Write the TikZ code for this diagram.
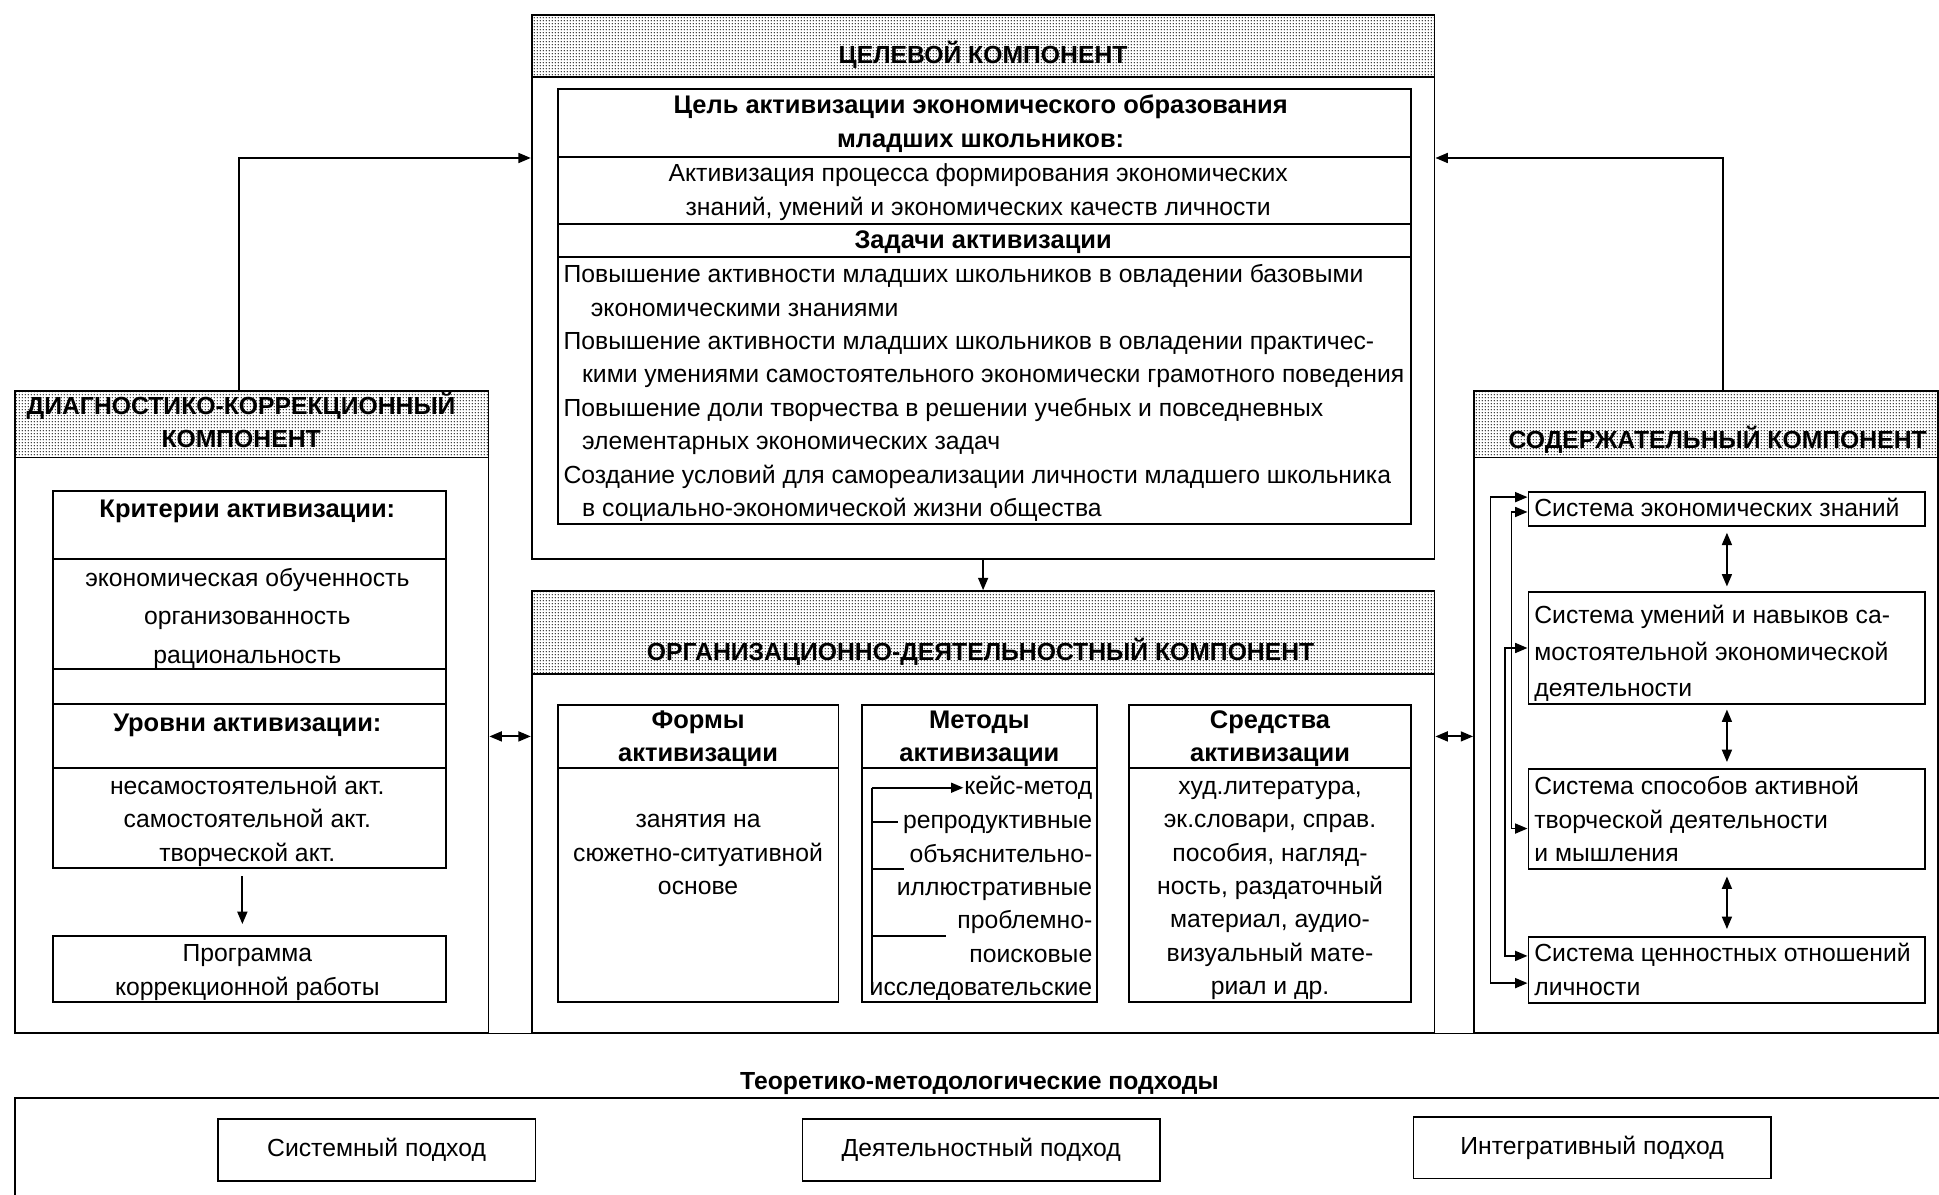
\documentclass[tikz,border=0pt]{standalone}
\usepackage{fontspec}
\setmainfont{Liberation Sans}
\usetikzlibrary{arrows.meta,patterns,fit}
\pgfdeclarepatternformonly{finedots}{\pgfpointorigin}{\pgfpoint{1.3pt}{1.3pt}}{\pgfpoint{1.3pt}{1.3pt}}{\pgfpathcircle{\pgfpoint{0.65pt}{0.65pt}}{0.32pt}\pgfusepath{fill}}
\newcommand\bodyf{\fontsize{10}{13.5}\selectfont}
\newcommand\boldf{\fontsize{10.3}{13.5}\selectfont\bfseries}
\newcommand\hdf{\fontsize{10}{13.5}\selectfont\bfseries}
\begin{document}
\begin{tikzpicture}[x=0.5pt,y=-0.5pt, line width=0.75pt,
  frame/.style={draw, inner sep=0pt},
  head/.style={draw, inner sep=0pt, pattern=finedots},
  txt/.style={inner sep=0pt, font=\bodyf, align=center},
  btxt/.style={inner sep=0pt, font=\boldf, align=center},
  htxt/.style={inner sep=0pt, font=\hdf, align=center},
  ltxt/.style={inner sep=0pt, font=\bodyf, align=left},
  rtxt/.style={inner sep=0pt, font=\bodyf, align=right},
  arr/.style={-{Triangle[length=5pt,width=4pt]}},
  dbl/.style={{Triangle[length=5pt,width=4pt]}-{Triangle[length=5pt,width=4pt]}},
]
\useasboundingbox (0,0) rectangle (1568,966);

% ---------------- target component
\node[frame, fit={(430,12) (1160,452)}] (tgt) {};
\node[head, fit={(430,12) (1160,62)}] (tgtH) {};
\node[htxt] (tgtT) at (795,44) {ЦЕЛЕВОЙ КОМПОНЕНТ};
\node[frame, fit={(451,72) (1141,127)}] (goalH) {};
\node[frame, fit={(451,127) (1141,181)}] (goalB) {};
\node[frame, fit={(451,181) (1141,208)}] (taskH) {};
\node[frame, fit={(451,208) (1141,424)}] (taskB) {};
\node[btxt] (goalHT) at (793,100) {\strut Цель активизации экономического образования\\\strut младших школьников:};
\node[txt] (goalBT) at (791,155) {\strut Активизация процесса формирования экономических\\\strut знаний, умений и экономических качеств личности};
\node[btxt] (taskHT) at (795,195.5) {\strut Задачи активизации};
\node[ltxt, anchor=north west] (taskBT) at (455,209) {\strut Повышение активности младших школьников в овладении базовыми\\
\strut\hspace*{11pt}экономическими знаниями\\
\strut Повышение активности младших школьников в овладении практичес-\\
\strut\hspace*{7.5pt}кими умениями самостоятельного экономически грамотного поведения\\
\strut Повышение доли творчества в решении учебных и повседневных\\
\strut\hspace*{7.5pt}элементарных экономических задач\\
\strut Создание условий для самореализации личности младшего школьника\\
\strut\hspace*{7.5pt}в социально-экономической жизни общества};

% ---------------- diagnostic component
\node[frame, fit={(12,316) (395,835)}] (diag) {};
\node[head, fit={(12,316) (395,370)}] (diagH) {};
\node[htxt] (diagT) at (195,343) {\strut ДИАГНОСТИКО-КОРРЕКЦИОННЫЙ\\\strut КОМПОНЕНТ};
\node[frame, fit={(43,397) (361,702)}] (crit) {};
\node[frame, fit={(43,397) (361,452)}] (critH) {};
\node[frame, fit={(43,452) (361,541)}] (critB) {};
\node[frame, fit={(43,541) (361,569)}] (critG) {};
\node[frame, fit={(43,569) (361,621)}] (levH) {};
\node[frame, fit={(43,621) (361,702)}] (levB) {};
\node[btxt] (critHT) at (200,413) {\strut Критерии активизации:};
\node[inner sep=0pt, align=center, font=\fontsize{10}{15.5}\selectfont] (critBT) at (200,499) {\strut экономическая обученность\\\strut организованность\\\strut рациональность};
\node[btxt] (levHT) at (200,586) {\strut Уровни активизации:};
\node[txt] (levBT) at (200,664) {\strut несамостоятельной акт.\\\strut самостоятельной акт.\\\strut творческой акт.};
\node[frame, fit={(43,757) (361,810)}] (prog) {};
\node[txt] (progT) at (200,786) {\strut Программа\\\strut коррекционной работы};

% ---------------- organisational component
\node[frame, fit={(430,478) (1160,835)}] (org) {};
\node[head, fit={(430,478) (1160,545)}] (orgH) {};
\node[htxt] (orgT) at (793,527) {ОРГАНИЗАЦИОННО-ДЕЯТЕЛЬНОСТНЫЙ КОМПОНЕНТ};
\node[frame, fit={(451,570) (678,621)}] (formsH) {};
\node[frame, fit={(451,621) (678,810)}] (formsB) {};
\node[frame, fit={(697,570) (887,621)}] (methH) {};
\node[frame, fit={(697,621) (887,810)}] (methB) {};
\node[frame, fit={(913,570) (1141,621)}] (meansH) {};
\node[frame, fit={(913,621) (1141,810)}] (meansB) {};
\node[btxt] (formsHT) at (564.5,597) {\strut Формы\\\strut активизации};
\node[btxt] (methHT) at (792,597) {\strut Методы\\\strut активизации};
\node[btxt] (meansHT) at (1027,597) {\strut Средства\\\strut активизации};
\node[txt] (formsBT) at (564.5,691) {\strut занятия на\\\strut сюжетно-ситуативной\\\strut основе};
\node[rtxt, anchor=east] (mcase) at (884,637) {\strut кейс-метод};
\node[rtxt, anchor=north east] (mrest) at (884,650.5) {\strut репродуктивные\\\strut объяснительно-\\\strut иллюстративные\\\strut проблемно-\\\strut поисковые\\\strut исследовательские};
\node[txt] (meansBT) at (1027,718) {\strut худ.литература,\\\strut эк.словари, справ.\\\strut пособия, нагляд-\\\strut ность, раздаточный\\\strut материал, аудио-\\\strut визуальный мате-\\\strut риал и др.};
\coordinate (brt) at (705,637);
\coordinate (brb) at (705,803);
\draw (brt) -- (brb);
\draw[arr] (brt) -- (mcase.west);
\draw (705,665) -- (726,665);
\draw (705,703) -- (731,703);
\draw (705,757) -- (765,757);

% ---------------- content component
\node[frame, fit={(1192,316) (1567,835)}] (cont) {};
\node[head, fit={(1192,316) (1567,370)}] (contH) {};
\node[htxt] (contT) at (1389,356) {СОДЕРЖАТЕЛЬНЫЙ КОМПОНЕНТ};
\node[frame, fit={(1236,398) (1557,425)}] (s1) {};
\node[frame, fit={(1236,479) (1557,569)}] (s2) {};
\node[frame, fit={(1236,622) (1557,703)}] (s3) {};
\node[frame, fit={(1236,758) (1557,811)}] (s4) {};
\node[ltxt, anchor=west] (s1T) at (1240,412) {\strut Система экономических знаний};
\node[inner sep=0pt, align=left, font=\fontsize{10}{14.75}\selectfont, anchor=north west] (s2T) at (1240,483) {\strut Система умений и навыков са-\\\strut мостоятельной экономической\\\strut деятельности};
\node[ltxt, anchor=north west] (s3T) at (1240,623) {\strut Система способов активной\\\strut творческой деятельности\\\strut и мышления};
\node[ltxt, anchor=north west] (s4T) at (1240,758) {\strut Система ценностных отношений\\\strut личности};
\draw[dbl, shorten <=2.5pt, shorten >=2pt] (s1.south) -- (s2.north);
\draw[dbl, shorten <=2pt, shorten >=2.5pt] (s2.south) -- (s3.north);
\draw[dbl, shorten <=2.5pt, shorten >=3pt] (s3.south) -- (s4.north);
\draw[dbl] ([yshift=4.75pt]s1.west) -- ++(-15pt,0) |- ([yshift=-5.25pt]s4.west);
\draw[dbl] ([yshift=-1.25pt]s1.west) -- ++(-6.5pt,0) |- ([yshift=-3.75pt]s3.west);
\draw[dbl] (s2.west) -- ++(-9pt,0) |- ([yshift=5.75pt]s4.west);

% ---------------- links between components
\draw[arr] (tgt.south) -- (org.north);
\draw[arr] ([xshift=-5pt]diagH.north) |- (tgt.west |- goalH.south);
\draw[arr] ([xshift=6.75pt]contH.north) |- (tgt.east |- goalH.south);
\draw[dbl] (diag.east |- methH.center) -- (org.west |- methH.center);
\draw[dbl] (org.east |- methH.center) -- (cont.west |- methH.center);
\draw[arr, shorten <=3pt, shorten >=4.5pt] ([xshift=-3pt]crit.south) -- ([xshift=-3pt]prog.north);
\draw (diag.south west) -- (cont.south east);

% ---------------- approaches
\node[htxt] (apprT) at (792,876) {Теоретико-методологические подходы};
\draw (1568,888) -- (12,888) -- (12,966);
\node[frame, fit={(176,905) (433,955)}] (b1) {};
\node[frame, fit={(649,905) (938,955)}] (b2) {};
\node[frame, fit={(1143,903) (1432,953)}] (b3) {};
\node[txt] (b1T) at (b1.center) {Системный подход};
\node[txt] (b2T) at (b2.center) {Деятельностный подход};
\node[txt] (b3T) at (b3.center) {Интегративный подход};
\end{tikzpicture}
\end{document}
